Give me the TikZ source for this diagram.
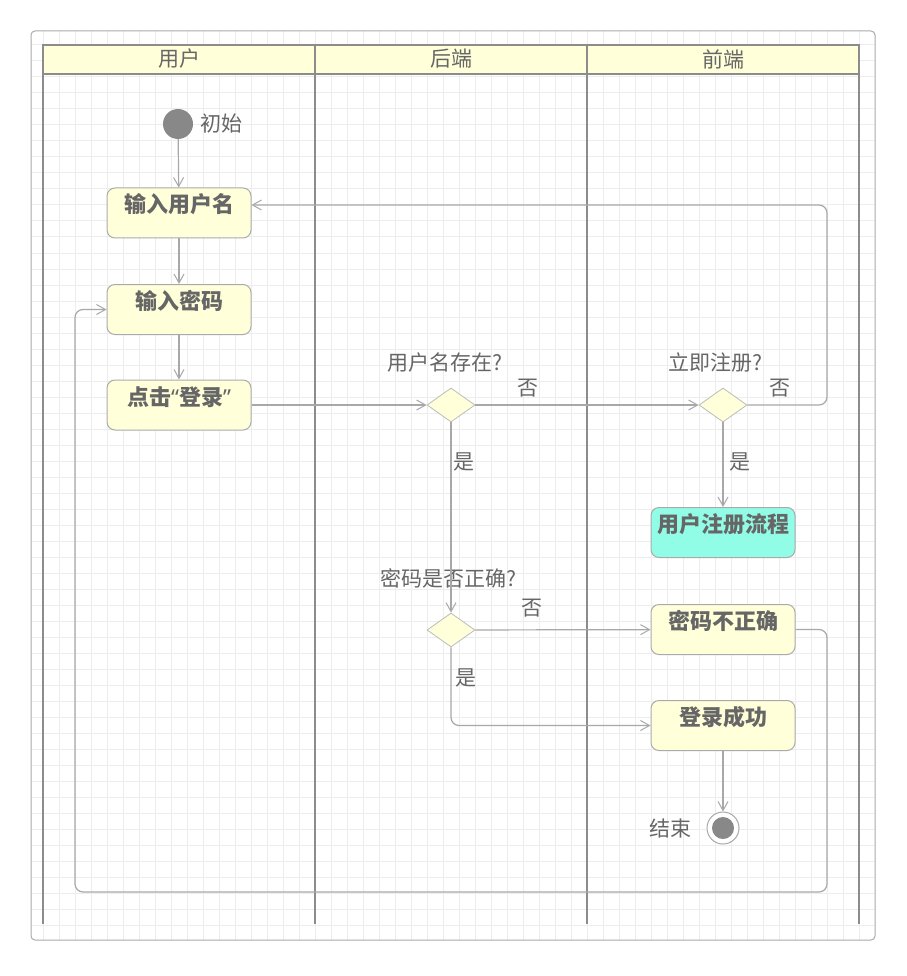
\documentclass[tikz,border=0pt]{standalone}
\usepackage{fontspec}
\setmainfont{Noto Sans CJK SC}
\newfontfamily\latinq{Noto Sans}
\usetikzlibrary{shapes.geometric,arrows.meta,calc}
\definecolor{gridc}{HTML}{EDEDED}
\definecolor{frame}{HTML}{AAAAAA}
\definecolor{lane}{HTML}{8C8C8C}
\definecolor{hdr}{HTML}{FFFFD9}
\definecolor{boxf}{HTML}{FFFFD9}
\definecolor{boxd}{HTML}{AAAAAA}
\definecolor{regf}{HTML}{91FDE6}
\definecolor{conn}{HTML}{A8A8A8}
\definecolor{txt}{HTML}{666666}
\definecolor{dot}{HTML}{888888}
\begin{document}
\begin{tikzpicture}[x=1pt,y=-1pt,
  every node/.style={text=txt,font=\fontsize{21}{25}\selectfont},
  actbox/.style={draw=boxd,fill=boxf,rounded corners=8pt,line width=1pt,
    minimum width=144pt,minimum height=50pt,inner sep=0pt,
    text height=15pt,text depth=15pt,font=\fontsize{22}{26}\selectfont\bfseries},
  decision/.style={diamond,draw=boxd!80,fill=boxf,line width=0.8pt,inner sep=0pt,
    minimum width=48pt,minimum height=34pt},
  connector/.style={draw=conn,line width=1.2pt,-{Straight Barb[length=9pt,width=10pt,line width=1pt]}},
  lbl/.style={inner sep=0pt},
  lanestyle/.style={draw=lane,line width=2pt}]
\useasboundingbox (0,0) rectangle (906,976);
% frame and grid
\fill[white] (0,0) rectangle (906,976);
\begin{scope}
\clip[rounded corners=4pt] (31,31) rectangle (875,940);
\foreach \x in {43,59,...,875} \draw[gridc,line width=1pt] (\x,31) -- (\x,940);
\foreach \y in {45,61,...,940} \draw[gridc,line width=1pt] (31,\y) -- (875,\y);
\end{scope}
\draw[frame,line width=1pt,rounded corners=4pt] (31,31) rectangle (875,940);
% swimlanes
\fill[hdr] (43,45) rectangle (859,74);
\draw[lanestyle] (43,45) rectangle (859,74);
\foreach \x in {43,315,587,859} \draw[lanestyle] (\x,45) -- (\x,924);
\node[lbl] (h1) at (179,59) {用户};
\node[lbl] (h2) at (451,59) {后端};
\node[lbl] (h3) at (723,59) {前端};
% nodes
\node[circle,fill=dot,minimum size=30pt,inner sep=0pt] (init) at (178,124) {};
\node[lbl,anchor=west] (initl) at (200,124) {初始};
\node[actbox] (u1) at (179,213) {输入用户名};
\node[actbox] (u2) at (179,309.5) {输入密码};
\node[actbox] (u3) at (179,405) {点击{\latinq\bfseries “}登录{\latinq\bfseries ”}};
\node[decision] (d1) at (451,405) {};
\node[decision] (d2) at (723,405) {};
\node[actbox,fill=regf] (reg) at (723,532.5) {用户注册流程};
\node[decision] (d3) at (451,630) {};
\node[actbox] (wrong) at (723,629.5) {密码不正确};
\node[actbox] (ok) at (723,725.5) {登录成功};
\node[circle,draw=conn,line width=1pt,fill=white,minimum size=32pt,inner sep=0pt] (end) at (723,828) {};
\fill[dot] (end.center) circle (11pt);
\node[lbl,anchor=east] (endl) at (692,828) {结束};
% decision texts
\node[lbl] (q1) at (445,363) {用户名存在?};
\node[lbl] (q2) at (715,363) {立即注册?};
\node[lbl] (q3) at (448,578) {密码是否正确?};
% helper coordinates
\coordinate (rx) at (827,0);
\coordinate (lx) at (75,0);
\coordinate (by) at (0,892);
\coordinate (u1in) at ($(u1.east)+(0,-8)$);
% connectors
\draw[connector] (init) -- (u1);
\draw[connector] (u1) -- (u2);
\draw[connector] (u2) -- (u3);
\draw[connector] (u3) -- (d1);
\draw[connector] (d1) -- (d2);
\draw[connector,rounded corners=8pt] (d2.east) -- (rx |- d2.east) -- (rx |- u1in) -- (u1in);
\draw[connector] (d2) -- (reg);
\draw[connector] (d1) -- (d3);
\draw[connector] (d3) -- (wrong);
\draw[connector,rounded corners=8pt] (d3.south) |- (ok.west);
\draw[connector] (ok) -- (end);
\draw[connector,rounded corners=8pt] (wrong.east) -- (rx |- wrong.east) -- (rx |- by) -- (lx |- by) -- (lx |- u2.west) -- (u2.west);
% edge labels
\node[lbl] (n1) at (528,388) {否};
\node[lbl] (n2) at (780,388) {否};
\node[lbl] (y1) at (464,462) {是};
\node[lbl] (y2) at (740,462) {是};
\node[lbl] (n3) at (532,608) {否};
\node[lbl] (y3) at (466,678) {是};
\end{tikzpicture}
\end{document}
